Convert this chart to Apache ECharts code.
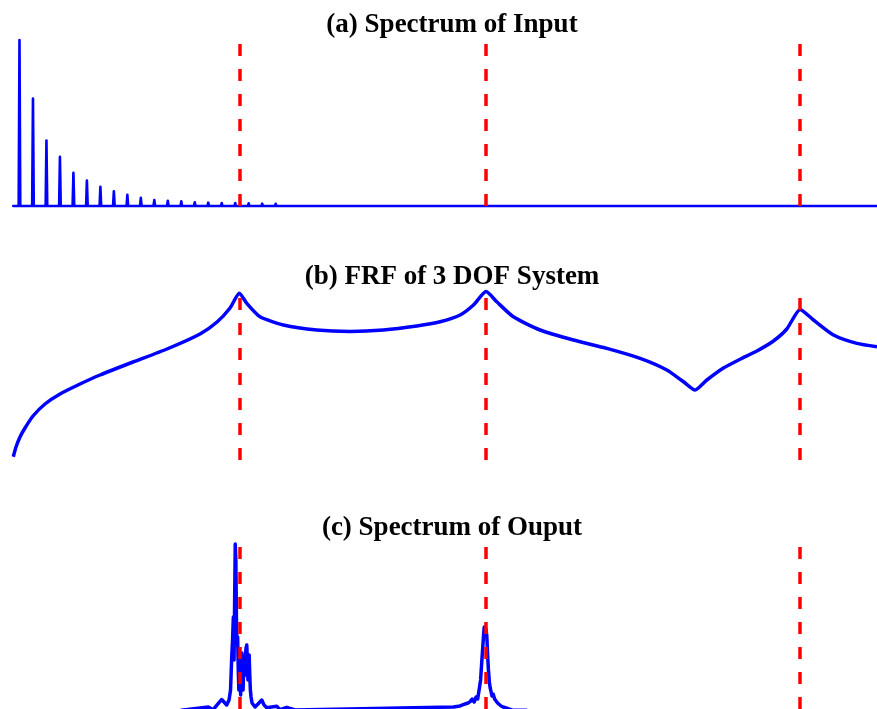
<!DOCTYPE html>
<html>
<head>
<meta charset="utf-8">
<script src="https://cdn.jsdelivr.net/npm/echarts@6/dist/echarts.min.js"></script>
<style>
html,body{margin:0;padding:0;background:#fff;}
#chart{width:877px;height:709px;}
</style>
</head>
<body>
<div id="chart"></div>
<script>
// ---- Data (frequency in units of the input fundamental) ----
const titles = ['(a) Spectrum of Input', '(b) FRF of 3 DOF System', '(c) Spectrum of Ouput'];
const resonanceFreqs = [17.34, 35.59, 58.90];

// (a) input spectrum: harmonic number and normalized amplitude
const harmonics = [1,2,3,4,5,6,7,8,9,10,11,12,13,14,15,16,17,18,19,20,21,22];
const harmonicAmps = [1.0,0.648,0.395,0.296,0.200,0.154,0.116,0.089,0.067,0.049,0.036,0.032,0.028,0.022,0.020,0.018,0.018,0.016,0.014,0.013,0.012,0.010];
const inputRange = [0.54, 64.6];

// (b) FRF magnitude (dB, relative)
const frfFreq = [0.542,0.742,1.039,1.409,2.003,2.893,4.006,5.490,6.973,9.421,11.944,14.392,15.653,16.617,17.307,17.86,18.84,20.57,23.05,25.52,27.99,30.47,32.2,33.68,34.67,35.61,36.40,37.63,39.61,42.08,44.56,47.03,49.01,50.25,51.11,51.98,53.21,54.45,55.69,56.92,57.91,58.9,59.89,61.37,63.11,64.6];
const frfDb = [-83.35,-78.5,-73.5,-69.0,-63.0,-57.0,-52.0,-47.0,-42.5,-36.0,-29.5,-22.0,-16.0,-9.0,-1.65,-6.7,-13.4,-17.5,-20.0,-20.7,-20.0,-18.0,-15.9,-12.5,-7.5,-0.8,-5.9,-13.4,-20.0,-25.0,-29.2,-34.2,-40.0,-45.9,-50.0,-45.0,-39.0,-34.6,-30.5,-25.5,-19.5,-9.7,-15.0,-22.5,-26.7,-28.4];

// (c) output spectrum (normalized amplitude)
const outFreq = [0,12.5,13.0,15.01,15.36,16.0,16.37,16.543,16.654,16.744,16.803,16.862,16.914,16.958,17.003,17.047,17.092,17.136,17.181,17.226,17.270,17.315,17.359,17.404,17.448,17.493,17.537,17.582,17.626,17.671,17.715,17.760,17.804,17.856,17.901,17.945,17.990,18.034,18.079,18.123,18.175,18.249,18.32,18.47,18.69,18.97,19.14,19.34,20.08,20.33,20.82,21.44,
  33.18,33.68,34.05,34.27,34.42,34.57,34.72,34.87,34.98,35.09,35.20,35.27,35.36,35.42,35.47,35.53,35.59,35.66,35.72,35.78,35.85,35.91,35.98,36.05,36.13,36.24,36.35,36.46,36.57,36.72,36.87,37.09,37.6,38.6,39.2,64.6];
const outAmp = [-0.03,-0.03,-0.008,0.012,-0.004,0.057,0.024,0.054,0.114,0.317,0.413,0.551,0.293,0.653,0.988,0.892,0.533,0.383,0.431,0.234,0.114,0.275,0.174,0.084,0.293,0.335,0.222,0.114,0.246,0.293,0.204,0.323,0.365,0.383,0.293,0.174,0.293,0.323,0.204,0.114,0.072,0.036,0.030,0.012,0.030,0.054,0.024,0.008,0.016,-0.004,0.010,-0.006,
  0.012,0.018,0.030,0.036,0.044,0.060,0.042,0.072,0.060,0.114,0.174,0.263,0.371,0.443,0.491,0.461,0.479,0.437,0.323,0.234,0.162,0.126,0.102,0.078,0.090,0.060,0.054,0.036,0.042,0.018,0.012,0.006,-0.008,-0.008,-0.03,-0.03];

// ---- Build series data ----
const spikeHalfWidth = 0.06;
const inputData = [[inputRange[0], 0]];
harmonics.forEach((n, i) => {
  inputData.push([n - spikeHalfWidth, 0]);
  inputData.push([n, harmonicAmps[i]]);
  inputData.push([n + spikeHalfWidth, 0]);
});
inputData.push([inputRange[1], 0]);

const frfData = frfFreq.map((f, i) => [f, frfDb[i]]);
const outData = outFreq.map((f, i) => [f, outAmp[i]]);

const blue = '#0000ff';
const markLine = {
  silent: true,
  symbol: 'none',
  label: {show: false},
  lineStyle: {color: '#ff0000', type: [12, 13], width: 3.5},
  data: resonanceFreqs.map(f => ({xAxis: f}))
};

const titleStyle = {fontFamily: "'Times New Roman', 'Liberation Serif', serif", fontWeight: 'bold', fontSize: 27, color: '#000'};

const xBase = {type: 'value', min: 0, max: 64.6, show: false};
const option = {
  animation: false,
  backgroundColor: '#fff',
  title: [
    {text: titles[0], left: 447, textAlign: 'center', top: 7, textStyle: titleStyle},
    {text: titles[1], left: 447, textAlign: 'center', top: 259, textStyle: titleStyle},
    {text: titles[2], left: 447, textAlign: 'center', top: 510, textStyle: titleStyle}
  ],
  grid: [
    {left: 6, right: 0, top: 40, height: 166},
    {left: 6, right: 0, top: 290, height: 170},
    {left: 6, right: 0, top: 542, height: 167}
  ],
  xAxis: [
    Object.assign({gridIndex: 0}, xBase),
    Object.assign({gridIndex: 1}, xBase),
    Object.assign({gridIndex: 2}, xBase)
  ],
  yAxis: [
    {gridIndex: 0, type: 'value', min: 0, max: 1, show: false},
    {gridIndex: 1, type: 'value', min: -85, max: 0, show: false},
    {gridIndex: 2, type: 'value', min: 0, max: 1, show: false}
  ],
  series: [
    {type: 'line', xAxisIndex: 0, yAxisIndex: 0, data: inputData, showSymbol: false, clip: false,
     lineStyle: {color: blue, width: 2.6, join: 'round', cap: 'round'}, markLine: markLine},
    {type: 'line', xAxisIndex: 1, yAxisIndex: 1, data: frfData, showSymbol: false, smooth: 0.2, clip: false,
     lineStyle: {color: blue, width: 3.5, join: 'round'}, markLine: markLine},
    {type: 'line', xAxisIndex: 2, yAxisIndex: 2, data: outData, showSymbol: false, clip: true,
     lineStyle: {color: blue, width: 3.5, join: 'round'}, markLine: markLine}
  ]
};
const chart = echarts.init(document.getElementById('chart'), null, {renderer: 'canvas'});
chart.setOption(option);
</script>
</body>
</html>
